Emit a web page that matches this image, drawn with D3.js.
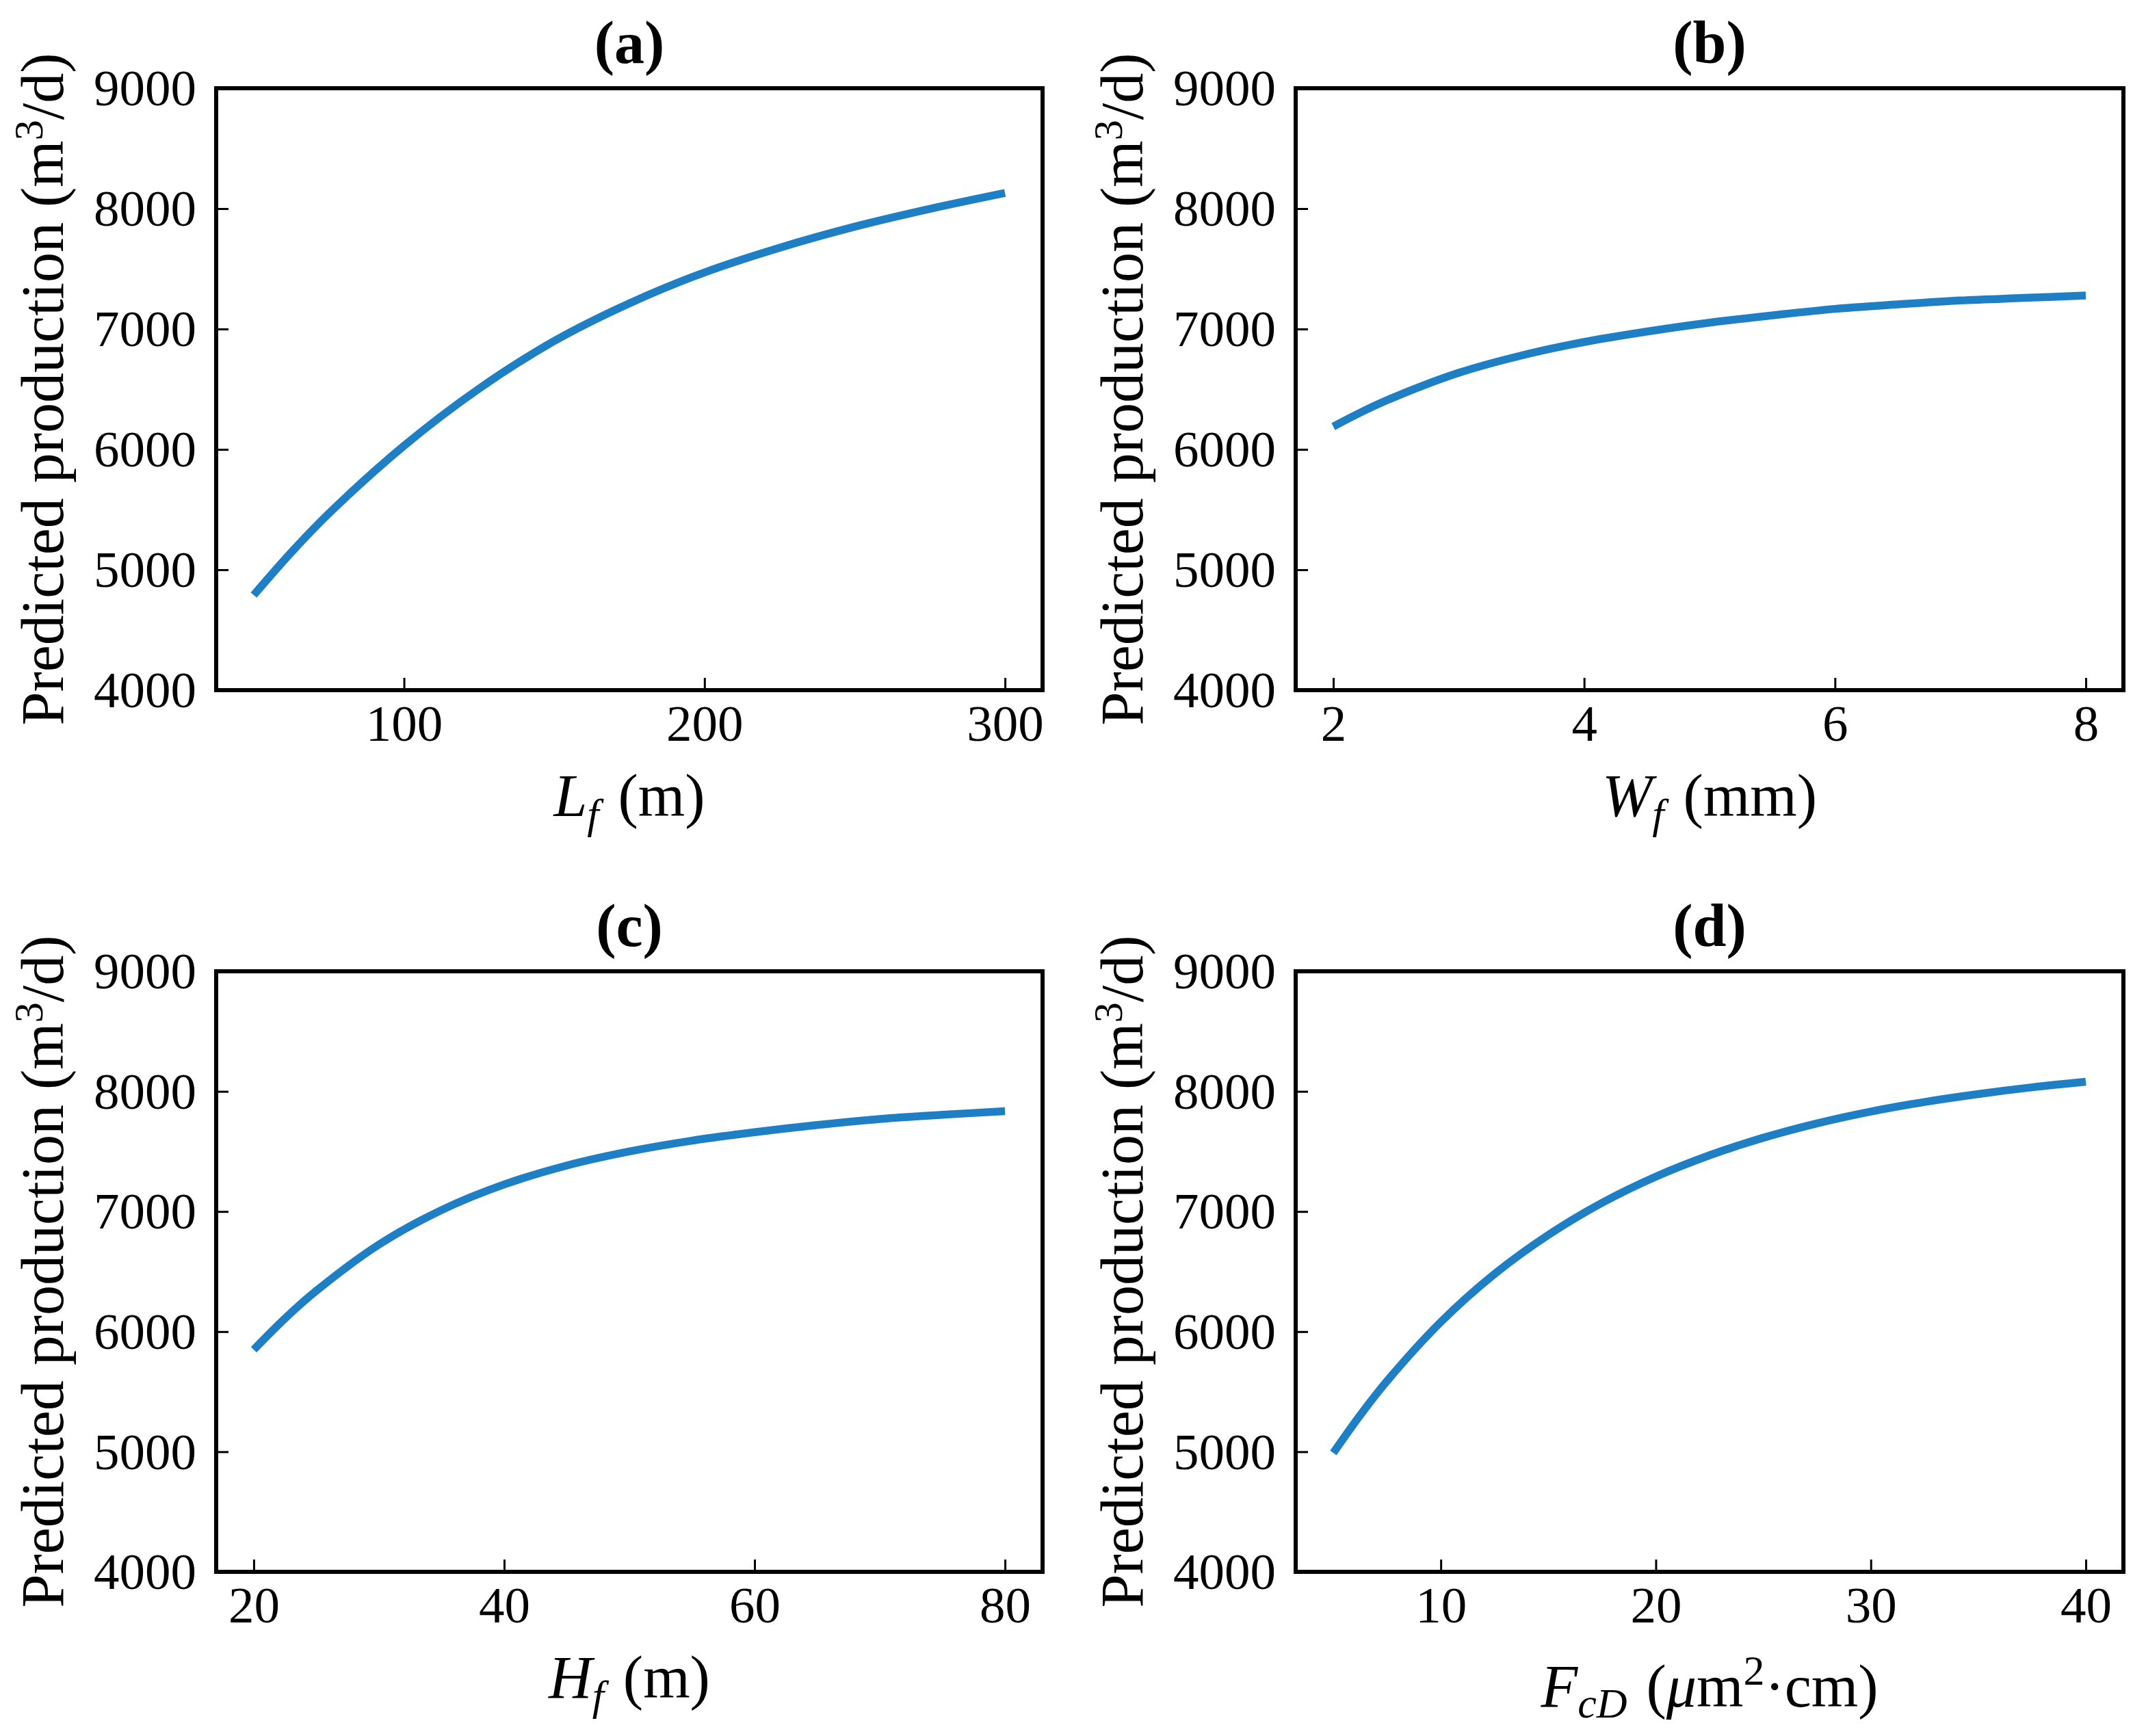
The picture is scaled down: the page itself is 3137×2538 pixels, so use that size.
<!DOCTYPE html>
<html>
<head>
<meta charset="utf-8">
<script src="https://cdn.jsdelivr.net/npm/d3@7"></script>
<style>
  body { margin: 0; background: #fff; }
  text { font-family: "Liberation Serif", "Times New Roman", serif; fill: #000; }
</style>
</head>
<body>
<svg id="chart" width="3137" height="2538"></svg>
<script>
// values
var lf_x = [50, 62.5, 75, 100, 125, 150, 175, 200, 225, 250, 275, 300];
var lf_y = [4790, 5145, 5468, 6030, 6505, 6900, 7213, 7470, 7675, 7850, 7998, 8130];

var wf_x = [2, 2.25, 2.5, 3, 3.5, 4, 4.5, 5, 5.5, 6, 6.5, 7, 7.5, 8];
var wf_y = [6190, 6323, 6440, 6636, 6780, 6892, 6979, 7053, 7113, 7167, 7204, 7237, 7258, 7278];

var hf_x = [20, 22.5, 25, 30, 35, 40, 45, 50, 55, 60, 65, 70, 75, 80];
var hf_y = [5850, 6110, 6340, 6725, 7012, 7225, 7383, 7500, 7590, 7660, 7720, 7770, 7805, 7835];

var fcd_x = [5, 6.25, 7.5, 10, 12.5, 15, 17.5, 20, 22.5, 25, 27.5, 30, 32.5, 35, 37.5, 40];
var fcd_y = [4990, 5304, 5589, 6080, 6480, 6805, 7072, 7290, 7468, 7614, 7734, 7832, 7912, 7978, 8034, 8080];

var y_ticks = [4000, 5000, 6000, 7000, 8000, 9000];
var lf_ticks = [100, 200, 300];
var wf_ticks = [2, 4, 6, 8];
var hf_ticks = [20, 40, 60, 80];
var fcd_ticks = [10, 20, 30, 40];

var titles = ["(a)", "(b)", "(c)", "(d)"];

var lineColor = "#1f7fc4";
var tickFont = 75, labelFont = 88;

var svg = d3.select("#chart");

// panel boxes (pixel frame of each axes)
var cols = [[316, 1524], [1894, 3104]];
var rows = [[129, 1009], [1420, 2298]];

var panels = [
  {xs: lf_x, ys: lf_y, ticks: lf_ticks, col: 0, row: 0, title: titles[0], xlab: "L"},
  {xs: wf_x, ys: wf_y, ticks: wf_ticks, col: 1, row: 0, title: titles[1], xlab: "W"},
  {xs: hf_x, ys: hf_y, ticks: hf_ticks, col: 0, row: 1, title: titles[2], xlab: "H"},
  {xs: fcd_x, ys: fcd_y, ticks: fcd_ticks, col: 1, row: 1, title: titles[3], xlab: "F"}
];

panels.forEach(function(p, i) {
  var x0 = cols[p.col][0], x1 = cols[p.col][1];
  var y0 = rows[p.row][0], y1 = rows[p.row][1];
  var w = x1 - x0, h = y1 - y0;

  // matplotlib style 5% margins on x
  var lo = d3.min(p.xs), hi = d3.max(p.xs), m = (hi - lo) * 0.05;
  var x = d3.scaleLinear().domain([lo - m, hi + m]).range([0, w]);
  var y = d3.scaleLinear().domain([4000, 9000]).range([h, 0]);

  var g = svg.append("g").attr("transform", "translate(" + x0 + "," + y0 + ")");

  var gx = g.append("g").attr("transform", "translate(0," + h + ")")
    .call(d3.axisBottom(x).tickValues(p.ticks).tickSize(-18).tickPadding(21).tickFormat(d3.format("d")));
  var gy = g.append("g")
    .call(d3.axisLeft(y).tickValues(y_ticks).tickSize(-18).tickPadding(29).tickFormat(d3.format("d")));

  [gx, gy].forEach(function(a) {
    a.select(".domain").remove();
    a.selectAll(".tick line").attr("stroke", "#000").attr("stroke-width", 3);
    a.selectAll(".tick text").style("font-size", tickFont + "px")
      .style("font-family", "'Liberation Serif', serif").attr("fill", "#000");
  });
  gy.selectAll(".tick text").attr("dy", "0.33em");

  var pts = p.xs.map(function(d, k) { return [d, p.ys[k]]; });
  var line = d3.line()
    .x(function(d) { return x(d[0]); })
    .y(function(d) { return y(d[1]); })
    .curve(d3.curveCatmullRom.alpha(0.5));

  g.append("path").datum(pts)
    .attr("d", line)
    .attr("fill", "none")
    .attr("stroke", lineColor)
    .attr("stroke-width", 11.5)
    .attr("stroke-linecap", "butt");

  g.append("rect")
    .attr("width", w).attr("height", h)
    .attr("fill", "none").attr("stroke", "#000").attr("stroke-width", 6);

  // title
  g.append("text")
    .attr("x", w / 2).attr("y", -37)
    .attr("text-anchor", "middle")
    .style("font-size", labelFont + "px").style("font-weight", "bold")
    .text(p.title);

  // y label
  var yl = g.append("text")
    .attr("transform", "translate(" + (92 - 316) + "," + (h / 2) + ") rotate(-90)")
    .attr("text-anchor", "middle")
    .style("font-size", labelFont + "px");
  yl.append("tspan").text("Predicted production (m");
  yl.append("tspan").attr("dy", -30).style("font-size", "60px").text("3");
  yl.append("tspan").attr("dy", 30).text("/d)");

  // x label
  var xl = g.append("text")
    .attr("x", w / 2)
    .attr("y", h + (p.row == 1 && p.col == 1 ? 197 : 184))
    .attr("text-anchor", "middle")
    .style("font-size", labelFont + "px");

  if (p.xlab == "F") {
    xl.append("tspan").style("font-style", "italic").text("F");
    xl.append("tspan").attr("dy", 16).style("font-style", "italic").style("font-size", "62px").text("cD");
    xl.append("tspan").attr("dy", -16).attr("dx", 6).text(" (");
    xl.append("tspan").style("font-style", "italic").text("\u03bc");
    xl.append("tspan").text("m");
    xl.append("tspan").attr("dy", -32).style("font-size", "62px").text("2");
    xl.append("tspan").attr("dy", 32).text("\u00b7cm)");
  } else {
    xl.append("tspan").style("font-style", "italic").text(p.xlab);
    xl.append("tspan").attr("dy", 18).style("font-style", "italic").style("font-size", "62px").text("f");
    xl.append("tspan").attr("dy", -18).attr("dx", 6).text(p.xlab == "W" ? " (mm)" : " (m)");
  }
});
</script>
</body>
</html>
